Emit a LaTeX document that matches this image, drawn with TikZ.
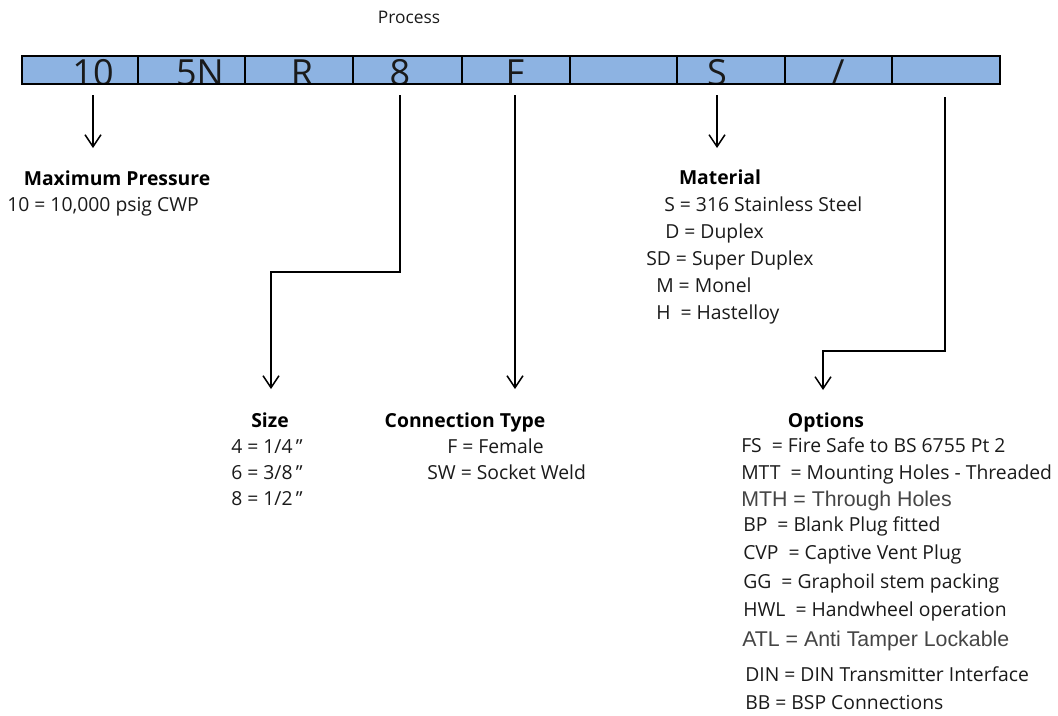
\documentclass[tikz,border=0pt]{standalone}
\usepackage{fontspec}
\setmainfont{Open Sans}
\newfontfamily\arialfont{Liberation Sans}
\usetikzlibrary{arrows.meta}
\definecolor{barblue}{HTML}{8DB3E2}
\definecolor{txt}{HTML}{1A1A1A}
\definecolor{graytxt}{HTML}{454545}
\newcommand\inchmark{\char"22\relax}
\tikzset{
  celltxt/.style={font=\fontsize{27}{30}\selectfont, text=txt, inner sep=0pt, anchor=base},
  body/.style={font=\fontsize{14.5}{17}\selectfont, text=txt, inner sep=0pt, anchor=base west},
  alt/.style={font=\arialfont\fontsize{16}{18}\selectfont, text=graytxt, inner sep=0pt, anchor=base west},
  head/.style={font=\fontsize{14.5}{17}\selectfont\bfseries, text=black, inner sep=0pt, anchor=base},
  conn/.style={draw, line width=1.2pt, -{Straight Barb[length=9pt,width=12pt,line width=1.1pt]}},
}
\begin{document}
\begin{tikzpicture}[x=0.75pt,y=-0.75pt]
\useasboundingbox (0,0) rectangle (1058,715);
% title
\node[font=\fontsize{13}{15}\selectfont, text=txt, inner sep=0pt, anchor=base] (proc) at (409,23) {Process};
% bar
\fill[barblue] (22,56) rectangle (1000,84);
\begin{scope}
\clip (22,56) rectangle (1000,83);
\node[celltxt] (c1) at (93,85) {10};
\node[celltxt] (c2) at (200,85) {5N};
\node[celltxt] (c3) at (302,85) {R};
\node[celltxt] (c4) at (400,85) {8};
\node[celltxt] (c5) at (515,85) {F};
\node[celltxt] (c7) at (717,85) {S};
\node[celltxt] (c8) at (838,85) {/};
\end{scope}
\foreach \x in {138,245,353,462,570,677,785,892}{
  \draw[line width=1.5pt] (\x,56) -- (\x,84);
}
\draw[line width=2.2pt] (22,56) rectangle (1000,84);
% connector coordinates
\coordinate (s1) at (93,95);
\coordinate (e1) at (93,148);
\coordinate (s4) at (400,95);
\coordinate (b4a) at (400,272);
\coordinate (b4b) at (271,272);
\coordinate (e4) at (271,389);
\coordinate (s5) at (515,95);
\coordinate (e5) at (515,389);
\coordinate (s7) at (717,95);
\coordinate (e7) at (717,148);
\coordinate (s9) at (945,97);
\coordinate (b9a) at (945,351);
\coordinate (b9b) at (823,351);
\coordinate (e9) at (823,390);
\draw[conn] (s1) -- (e1);
\draw[conn] (s4) -- (b4a) -- (b4b) -- (e4);
\draw[conn] (s5) -- (e5);
\draw[conn] (s7) -- (e7);
\draw[conn] (s9) -- (b9a) -- (b9b) -- (e9);
% maximum pressure
\node[head] (hmp) at (117,185) {Maximum Pressure};
\node[body] (mp1) at (7,211) {10 = 10,000 psig CWP};
% material
\node[head] (hmat) at (720,184) {Material};
\node[body] (m1) at (664,211) {S = 316 Stainless Steel};
\node[body] (m2) at (665,238) {D = Duplex};
\node[body] (m3) at (646,265) {SD = Super Duplex};
\node[body] (m4) at (656,292) {M = Monel};
\node[body] (m5) at (656,319) {H ~= Hastelloy};
% size
\node[head] (hsz) at (270,427) {Size};
\node[body] (z1) at (231,453) {4 = 1/4\,\inchmark};
\node[body] (z2) at (231,479) {6 = 3/8\,\inchmark};
\node[body] (z3) at (231,505) {8 = 1/2\,\inchmark};
% connection type
\node[head] (hct) at (465,427) {Connection Type};
\node[body] (t1) at (447,453) {F = Female};
\node[body] (t2) at (427,479) {SW = Socket Weld};
% options
\node[head] (hop) at (826,427) {Options};
\node[body] (o1) at (741,452) {FS ~= Fire Safe to BS 6755 Pt 2};
\node[body] (o2) at (741,479) {MTT ~= Mounting Holes - Threaded};
\node[alt]  (o3) at (741,506) {MTH = Through Holes};
\node[body] (o4) at (743,531) {BP ~= Blank Plug fitted};
\node[body] (o5) at (743,559) {CVP ~= Captive Vent Plug};
\node[body] (o6) at (743,588) {GG ~= Graphoil stem packing};
\node[body] (o7) at (743,616) {HWL ~= Handwheel operation};
\node[alt]  (o8) at (742,646) {ATL = Anti Tamper Lockable};
\node[body] (o9) at (745,681) {DIN = DIN Transmitter Interface};
\node[body] (o10) at (745,709) {BB = BSP Connections};
\end{tikzpicture}
\end{document}
